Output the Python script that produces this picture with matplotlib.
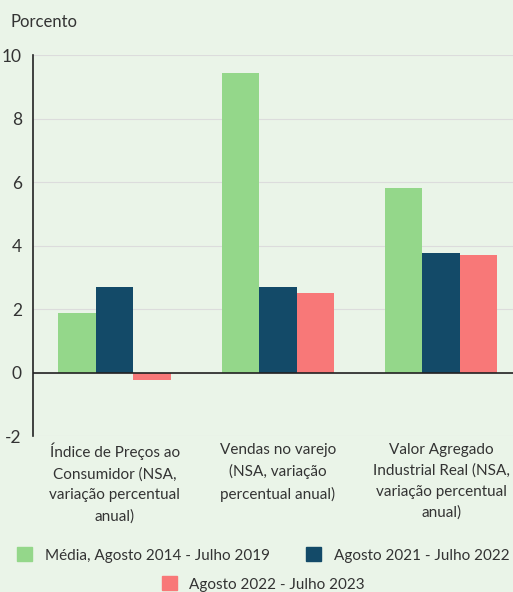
import matplotlib.pyplot as plt
import numpy as np
from matplotlib.patches import Patch

# 数据
categories = [
    "Índice de Preços ao\nConsumidor (NSA,\nvariação percentual\nanual)",
    "Vendas no varejo\n(NSA, variação\npercentual anual)",
    "Valor Agregado\nIndustrial Real (NSA,\nvariação percentual\nanual)",
]
series_names = [
    "Média, Agosto 2014 - Julho 2019",
    "Agosto 2021 - Julho 2022",
    "Agosto 2022 - Julho 2023",
]
media_14_19 = [1.89, 9.43, 5.80]
ago21_jul22 = [2.68, 2.68, 3.75]
ago22_jul23 = [-0.25, 2.49, 3.69]
yticks = [-2, 0, 2, 4, 6, 8, 10]

colors = ["#94d78a", "#134a68", "#f87878"]
bg = "#eaf4e8"
text_color = "#333333"
fs = 11

plt.rcParams['font.family'] = ['Lato', 'DejaVu Sans']

fig = plt.figure(figsize=(5.13, 5.92), dpi=100, facecolor=bg)
ax = fig.add_axes([0.0643, 0.2635, 0.9357, 0.6435], facecolor=bg)

x = np.arange(len(categories))
w = 0.23
for i, vals in enumerate([media_14_19, ago21_jul22, ago22_jul23]):
    ax.bar(x + (i - 1) * w, vals, width=w, color=colors[i], zorder=3)

ax.set_xlim(-0.5, 2.44)
ax.set_ylim(-2, 10)
ax.set_yticks(yticks)
ax.set_yticklabels([str(t) for t in yticks], fontsize=12.5, color=text_color)
ax.yaxis.grid(True, color="#dcdcdc", linewidth=0.8, zorder=0)
ax.axhline(0, color="#222222", linewidth=1.2, zorder=4)
ax.tick_params(axis="y", length=0, pad=8)
ax.tick_params(axis="x", length=0, pad=5)
ax.set_xticks(x)
ax.set_xticklabels(categories, fontsize=fs, color=text_color, linespacing=1.6)

for s in ["top", "right", "bottom"]:
    ax.spines[s].set_visible(False)
ax.spines["left"].set_color("#222222")
ax.spines["left"].set_linewidth(1.2)

fig.text(0.02, 0.963, "Porcento", fontsize=12, color=text_color, va="center")

handles = [Patch(color=c) for c in colors]
fig.legend(handles[:2], series_names[:2], loc="center", bbox_to_anchor=(0.513, 0.0625),
           ncol=2, frameon=False, fontsize=fs, handlelength=1.0, handleheight=1.0,
           columnspacing=2.4, handletextpad=0.8, labelcolor=text_color)
fig.legend(handles[2:], series_names[2:], loc="center", bbox_to_anchor=(0.513, 0.0135),
           frameon=False, fontsize=fs, handlelength=1.0, handleheight=1.0,
           handletextpad=0.8, labelcolor=text_color)

fig.savefig("out.png", dpi=100, facecolor=bg)
